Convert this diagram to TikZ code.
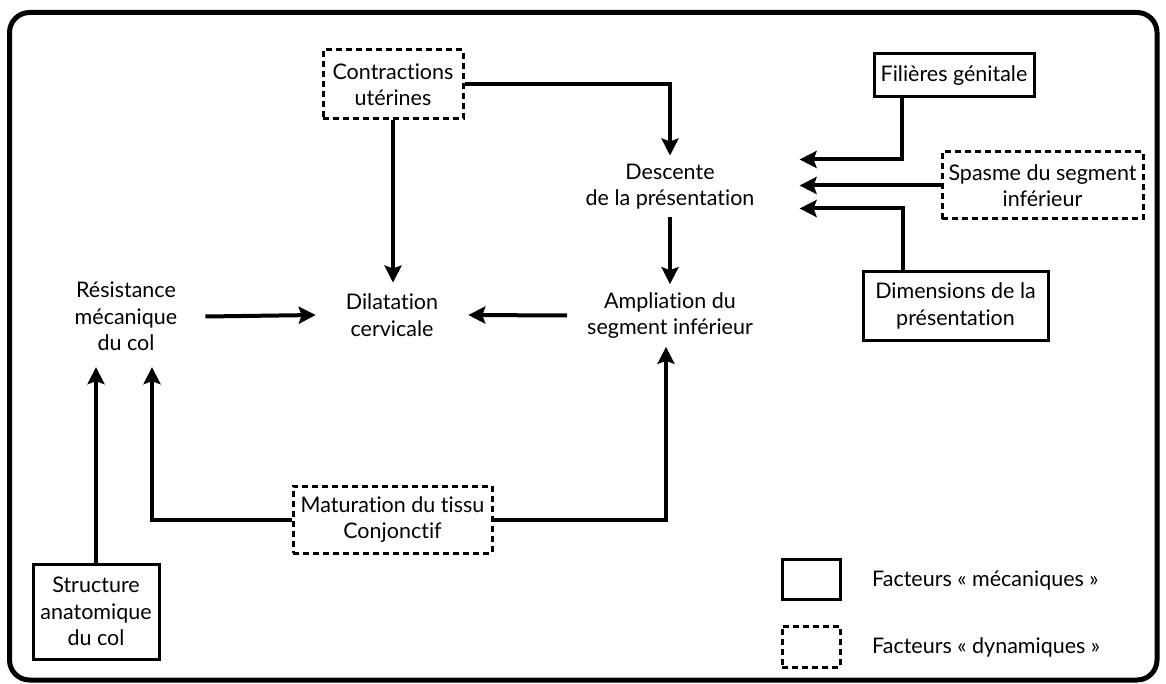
\documentclass[tikz,border=0pt]{standalone}
\usepackage{fontspec}
\setmainfont{Lato}[Ligatures={NoCommon}]
\usetikzlibrary{arrows.meta}
\begin{document}
\begin{tikzpicture}[x=1pt,y=-1pt,
  every node/.style={font=\fontsize{21.5}{26.5}\selectfont, align=center},
  solidbox/.style={draw, line width=3pt, inner sep=0pt},
  dashbox/.style={draw, line width=3pt, dash pattern=on 6pt off 4pt, inner sep=0pt},
  plain/.style={inner sep=0pt},
  arr/.style={line width=4pt, -{Stealth[length=17pt,width=17pt,inset=3pt]}},
  conn/.style={line width=4pt}
]
\useasboundingbox (0,0) rectangle (1166,684);
\draw[line width=5pt, rounded corners=20pt] (9.5,12.5) rectangle (1157,680);

% nodes
\node[dashbox, minimum width=140pt, minimum height=69pt] (contr) at (393,84.5) {Contractions\\utérines};
\node[inner xsep=45pt, inner ysep=8pt] (desc) at (670,186.5) {Descente\\de la présentation};
\node[inner xsep=20pt, inner ysep=8pt] (ampl) at (670,315.5) {Ampliation du\\segment inférieur};
\node[inner xsep=30pt, inner ysep=11pt] (dil) at (392,315) {Dilatation\\cervicale};
\node[inner xsep=28pt, inner ysep=16pt] (res) at (126,316.5) {Résistance\\mécanique\\du col};
\node[dashbox, minimum width=199pt, minimum height=67pt] (mat) at (392.5,519.5) {Maturation du tissu\\Conjonctif};
\node[solidbox, minimum width=126pt, minimum height=95pt] (struct) at (96,611.5) {Structure\\anatomique\\du col};
\node[solidbox, minimum width=160pt, minimum height=43pt] (fil) at (954,75.5) {Filières génitale};
\node[dashbox, minimum width=201pt, minimum height=67pt] (spasme) at (1042.5,185.5) {Spasme du segment\\inférieur};
\node[solidbox, minimum width=185pt, minimum height=68pt] (dim) at (955.5,306) {Dimensions de la\\présentation};

% legend
\node[solidbox, minimum width=58pt, minimum height=40pt] (legs) at (811,579) {};
\node[dashbox, minimum width=58pt, minimum height=41pt] (legd) at (811,646.5) {};
\node[plain, anchor=west] (legst) at (872,580) {Facteurs « mécaniques »};
\node[plain, anchor=west] (legdt) at (872,647) {Facteurs « dynamiques »};

% connectors
\draw[arr] (contr.east) -| (desc.north);
\draw[arr] (contr.south) -- (contr.south |- dil.north);
\draw[arr] (desc.south) -- (ampl.north);
\draw[arr] (ampl.west) -- (dil.east);
\draw[arr] (res.east) -- (dil.west);
\draw[arr] (mat.west) -| ([xshift=26pt]res.south);
\draw[arr] (mat.east) -| ([xshift=-4pt]ampl.south);
\draw[arr] (struct.north) -- (struct.north |- res.south);
\draw[arr] ([xshift=-52pt]fil.south) |- ([yshift=27pt]desc.east);
\draw[arr] (spasme.west) -- (spasme.west -| desc.east);
\draw[arr] ([xshift=-53pt]dim.north) |- ([yshift=-22pt]desc.east);
\end{tikzpicture}
\end{document}
